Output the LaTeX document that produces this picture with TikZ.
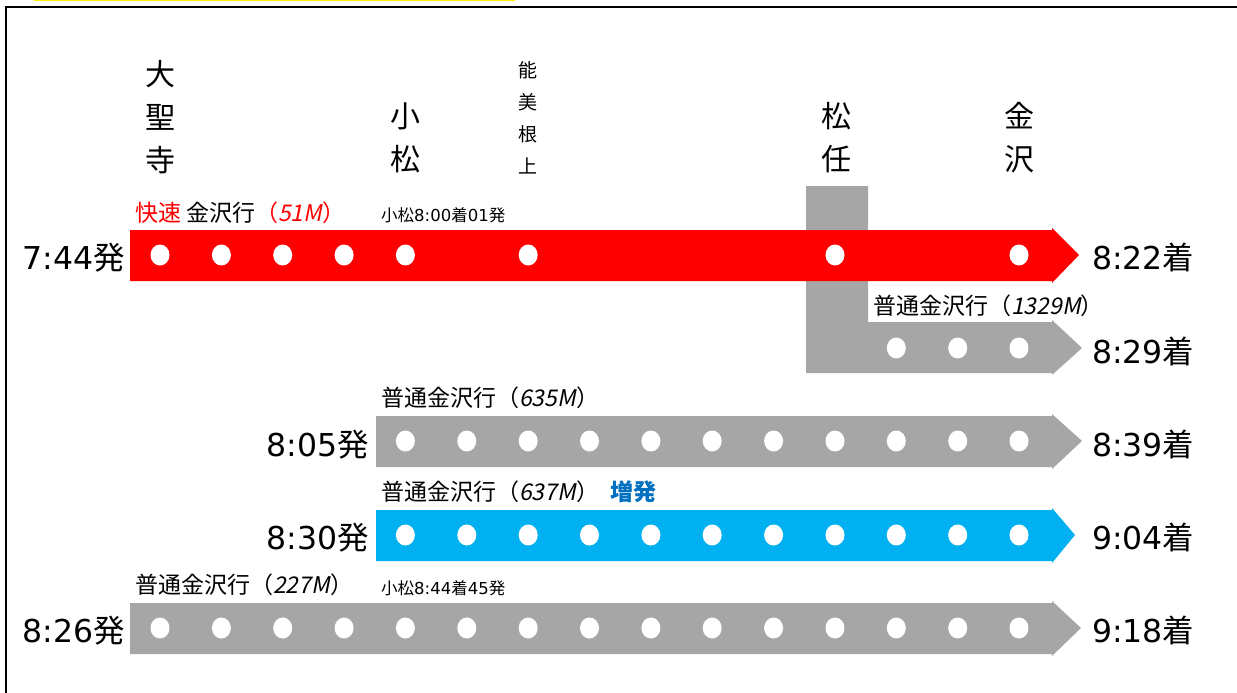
\documentclass[tikz,border=0pt]{standalone}
\usepackage{fontspec}
\setmainfont{Noto Sans CJK JP}
\newfontfamily\jpit[FakeSlant=0.2]{Noto Sans CJK JP}
\newfontfamily\digits{DejaVu Sans}
\usetikzlibrary{positioning}
\definecolor{rapidred}{HTML}{FF0000}
\definecolor{railgray}{HTML}{A6A6A6}
\definecolor{extrablue}{HTML}{00B0F0}
\definecolor{notedblue}{HTML}{0070C0}

\begin{document}
\begin{tikzpicture}[x=1pt,y=-1pt,
    station/.style={inner sep=0pt, align=center, font=\fontsize{30}{43}\selectfont},
    smallstation/.style={inner sep=0pt, align=center, font=\fontsize{19}{32}\selectfont},
    timelabel/.style={inner sep=0pt, font=\fontsize{31.5}{36}\selectfont},
    trainlabel/.style={inner sep=0pt, font=\fontsize{23}{26}\selectfont},
    stoplabel/.style={inner sep=0pt, font=\fontsize{16.5}{20}\selectfont}]
    \useasboundingbox (0,0) rectangle (1237,693);

    % frame
    \draw [yellow, line width=2pt] (34,0.5) -- (515,0.5);
    \draw [black, line width=2pt] (6,700) -- (6,7) -- (1240,7);

    % stations
    \node [station] (daishoji) at (160,117) {大\\聖\\寺};
    \node [station] (komatsu) at (405,138) {小\\松};
    \node [smallstation] (nomineagari) at (528,118) {能\\美\\根\\上};
    \node [station] (matto) at (836,138) {松\\任};
    \node [station] (kanazawa) at (1019,138) {金\\沢};

    % Matto branch
    \fill [railgray] (806,186) -- (868,186) -- (868,322) -- (1052,322) -- (1052,320) -- (1082,348)
        -- (1052,375) -- (1052,373) -- (806,373) -- cycle;

    % trains
    \fill [rapidred] (130,230) -- (1052,230) -- (1052,228) -- (1079,255) -- (1052,283) -- (1052,281) -- (130,281) -- cycle;
    \fill [railgray] (376,416) -- (1052,416) -- (1052,414) -- (1082,441) -- (1052,469) -- (1052,467) -- (376,467) -- cycle;
    \fill [extrablue] (376,510) -- (1052,510) -- (1052,508) -- (1075,535) -- (1052,563) -- (1052,561) -- (376,561) -- cycle;
    \fill [railgray] (130,603) -- (1052,603) -- (1052,601) -- (1081,628) -- (1052,656) -- (1052,654) -- (130,654) -- cycle;

    % stops
    \foreach \x in {160,221.4,282.7,344.1,405.4,528.2,835,1019}
        \fill [white] (\x,255) ellipse (9.5 and 10.5);
    \foreach \x in {896.3,957.7,1019}
        \fill [white] (\x,348) ellipse (9.5 and 10.5);
    \foreach \x in {405.4,466.8,528.2,589.5,650.9,712.2,773.6,835,896.3,957.7,1019} {
        \fill [white] (\x,441) ellipse (9.5 and 10.5);
        \fill [white] (\x,535) ellipse (9.5 and 10.5);
    }
    \foreach \x in {160,221.4,282.7,344.1,405.4,466.8,528.2,589.5,650.9,712.2,773.6,835,896.3,957.7,1019}
        \fill [white] (\x,628) ellipse (9.5 and 10.5);

    % departures
    \node [timelabel, anchor=base east] (dep51) at (125,269) {{\digits 7:44}発};
    \node [timelabel, anchor=base east] (dep635) at (369,456) {{\digits 8:05}発};
    \node [timelabel, anchor=base east] (dep637) at (369,549) {{\digits 8:30}発};
    \node [timelabel, anchor=base east] (dep227) at (125,642) {{\digits 8:26}発};

    % arrivals
    \node [timelabel, anchor=base west] (arr51) at (1092,269) {{\digits 8:22}着};
    \node [timelabel, anchor=base west] (arr1329) at (1092,363) {{\digits 8:29}着};
    \node [timelabel, anchor=base west] (arr635) at (1092,456) {{\digits 8:39}着};
    \node [timelabel, anchor=base west] (arr637) at (1092,549) {{\digits 9:04}着};
    \node [timelabel, anchor=base west] (arr227) at (1092,642) {{\digits 9:18}着};

    % train names
    \node [trainlabel, anchor=base west] (name51) at (135,221)
        {\textcolor{rapidred}{快速}\hspace{5pt}金沢行\textcolor{rapidred}{（{\jpit 51M}）}};
    \node [trainlabel, anchor=base west] (name1329) at (873,314) {普通金沢行（{\jpit 1329M}）};
    \node [trainlabel, anchor=base west] (name635) at (381,406) {普通金沢行（{\jpit 635M}）};
    \node [trainlabel, anchor=base west] (name637) at (381,500)
        {普通金沢行（{\jpit 637M}）\hspace{11pt}\textcolor{notedblue}{\bfseries 増発}};
    \node [trainlabel, anchor=base west] (name227) at (135,593) {普通金沢行（{\jpit 227M}）};

    % Komatsu stops
    \node [stoplabel, anchor=base west] (stop51) at (381,221) {小松{\digits 8:00}着{\digits 01}発};
    \node [stoplabel, anchor=base west] (stop227) at (381,594) {小松{\digits 8:44}着{\digits 45}発};
\end{tikzpicture}
\end{document}
